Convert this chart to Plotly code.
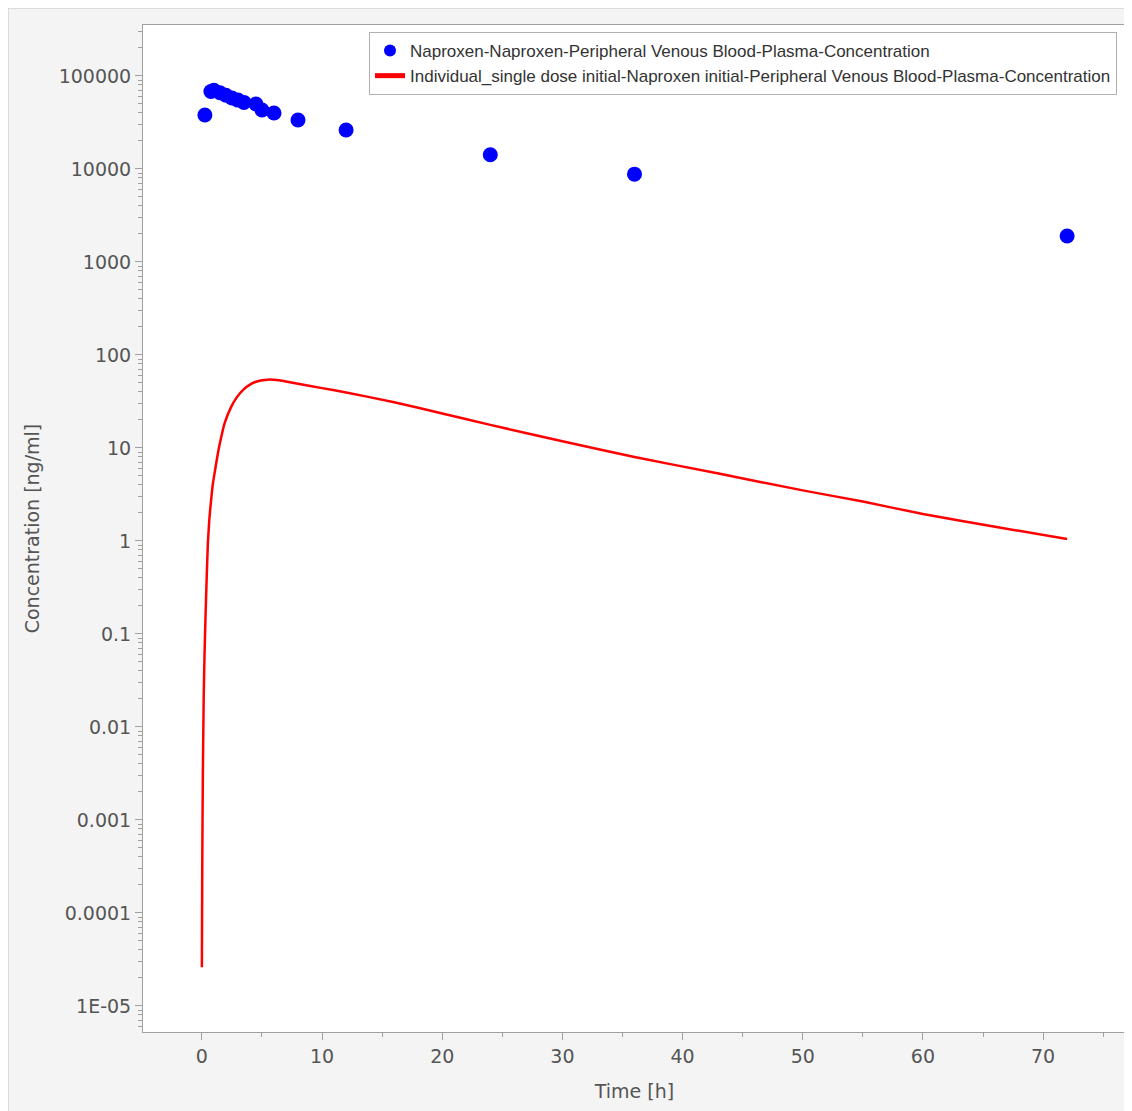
import plotly.graph_objects as go

# Observed data
obs_time = [0.25, 0.75, 1.0, 1.5, 2.0, 2.5, 3.0, 3.5, 4.5, 5.0, 6.0, 8.0, 12.0, 24.0, 36.0, 72.0]
obs_conc = [38000, 68000, 70000, 66000, 62000, 58000, 55000, 52000, 50000, 43000, 40000, 33600, 26200, 14200, 8800, 1900]

# Simulated curve
sim_time = [0.0, 0.03, 0.08, 0.15, 0.22, 0.3, 0.4, 0.5, 0.62, 0.75, 0.9, 1.1, 1.3, 1.5, 1.9, 2.4, 2.9, 3.5, 4.0, 4.5, 5.0, 5.5, 6.0, 7.0, 8.0, 10.0, 12.0, 16.0, 20.0, 24.0, 30.0, 36.0, 43.0, 50.0, 55.0, 60.0, 66.0, 72.0]
sim_conc = [2.6e-5, 3e-4, 3e-3, 0.02, 0.06, 0.15, 0.4, 0.95, 1.7, 2.6, 4.0, 5.8, 8.3, 11.3, 18.6, 27, 35, 43, 48, 51.5, 53.5, 54.3, 54.0, 51.8, 49, 44, 39.5, 31, 23.5, 17.7, 11.8, 8.0, 5.3, 3.5, 2.65, 1.95, 1.42, 1.05]

y_tickvals = [1e5, 1e4, 1e3, 1e2, 1e1, 1, 0.1, 0.01, 0.001, 0.0001, 0.00001]
y_ticktext = ["100000", "10000", "1000", "100", "10", "1", "0.1", "0.01", "0.001", "0.0001", "1E-05"]
x_tickvals = [0, 10, 20, 30, 40, 50, 60, 70]

# page has an 8px body margin; figure spans (8,8)-(1132,1111)
W, H = 1124, 1103
ml, mr, mt, mb = 135, 6, 17, 79
pw, ph = W - ml - mr, H - mt - mb

fig = go.Figure()
fig.add_trace(go.Scatter(
    x=obs_time, y=obs_conc, mode="markers",
    name="Naproxen-Naproxen-Peripheral Venous Blood-Plasma-Concentration",
    marker=dict(color="#0000ff", size=15, line=dict(width=0)),
))
fig.add_trace(go.Scatter(
    x=sim_time, y=sim_conc, mode="lines",
    name="Individual_single dose initial-Naproxen initial-Peripheral Venous Blood-Plasma-Concentration",
    line=dict(color="#ff0000", width=2.5, shape="spline", smoothing=0.6),
))

axis_font = dict(family="DejaVu Sans, sans-serif", size=19, color="#555555")

fig.update_layout(
    width=W, height=H,
    margin=dict(l=ml, r=mr, t=mt, b=mb),
    paper_bgcolor="#f4f4f4",
    plot_bgcolor="#ffffff",
    showlegend=True,
    legend=dict(
        x=1 - 9 / pw, y=1 - 7 / ph, xanchor="right", yanchor="top",
        bgcolor="#ffffff", bordercolor="#b0b0b0", borderwidth=1,
        font=dict(family="Liberation Sans, Arial, sans-serif", size=17, color="#333333"),
        itemwidth=30, tracegroupgap=0, itemsizing="constant",
    ),
    xaxis=dict(
        range=[-4.9, 76.9], tickmode="array", tickvals=x_tickvals,
        ticks="outside", ticklen=7, tickcolor="#a0a0a0",
        showline=True, linecolor="#a0a0a0", linewidth=1, mirror=True,
        showgrid=False, zeroline=False,
        tickfont=axis_font,
        minor=dict(ticks="outside", ticklen=4, dtick=5, tickcolor="#a0a0a0", showgrid=False),
        title=dict(text="Time [h]", font=axis_font, standoff=18),
    ),
    yaxis=dict(
        type="log", range=[-5.28, 5.548],
        tickmode="array", tickvals=y_tickvals, ticktext=y_ticktext,
        ticks="outside", ticklen=7, tickcolor="#a0a0a0",
        showline=True, linecolor="#a0a0a0", linewidth=1, mirror=True,
        showgrid=False, zeroline=False,
        tickfont=axis_font,
        minor=dict(ticks="outside", ticklen=4, dtick="D1", tickcolor="#a0a0a0", showgrid=False),
        title=dict(text="Concentration [ng/ml]", font=axis_font, standoff=14),
    ),
    shapes=[dict(
        type="rect", xref="paper", yref="paper",
        x0=-ml / pw, x1=(W - ml) / pw + 0.01,
        y0=-mb / ph - 0.01, y1=1 + mt / ph,
        line=dict(color="#d4d4d4", width=1.5), fillcolor="rgba(0,0,0,0)", layer="below",
    )],
)

fig.write_html("out.html")
